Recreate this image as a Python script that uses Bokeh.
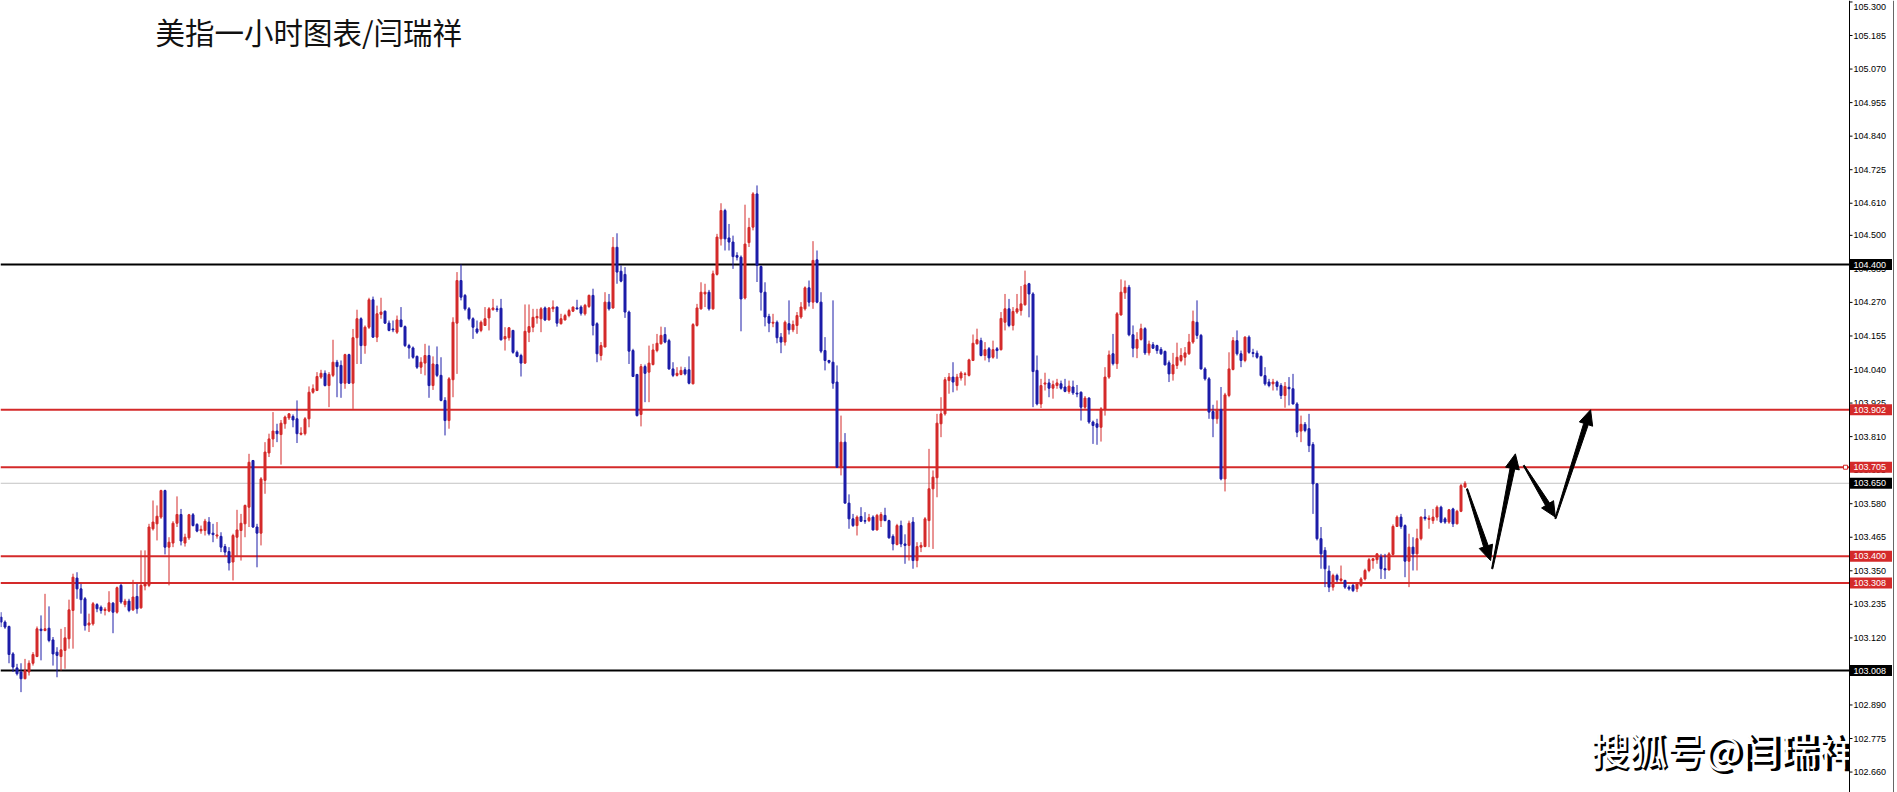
from bokeh.plotting import figure
from bokeh.models import ColumnDataSource, Range1d
from bokeh.core.properties import value
from bokeh.embed import file_html
from bokeh.resources import INLINE

# ---------------- data (USD index, 1h candles) ----------------
opens = [
103.191,103.174,103.159,103.065,103.017,103.003,102.980,103.003,103.033,103.056,
103.150,103.145,103.153,103.113,103.071,103.056,103.077,103.117,103.214,103.325,
103.288,103.254,103.164,103.168,103.234,103.225,103.214,103.212,103.239,103.208,
103.300,103.234,103.246,103.216,103.262,103.223,103.298,103.300,103.494,103.511,
103.534,103.625,103.431,103.445,103.513,103.543,103.445,103.463,103.542,103.509,
103.487,103.488,103.517,103.479,103.469,103.468,103.433,103.416,103.380,103.465,
103.488,103.511,103.568,103.728,103.500,103.479,103.660,103.754,103.802,103.829,
103.817,103.854,103.874,103.879,103.871,103.818,103.820,103.871,103.962,103.968,
104.014,104.027,103.985,104.020,104.065,104.054,103.993,104.091,103.993,104.149,
104.214,104.122,104.185,104.279,104.151,104.229,104.240,104.199,104.179,104.168,
104.210,104.187,104.122,104.114,104.085,104.048,104.062,104.088,103.985,104.057,
104.020,103.934,103.865,104.005,104.199,104.345,104.294,104.248,104.214,104.179,
104.174,104.191,104.217,104.245,104.248,104.250,104.145,104.149,104.174,104.099,
104.088,104.062,104.168,104.185,104.217,104.214,104.251,104.210,104.248,104.254,
104.197,104.210,104.225,104.240,104.251,104.254,104.231,104.256,104.294,104.197,
104.088,104.117,104.271,104.251,104.459,104.377,104.366,104.237,104.105,104.023,
103.886,104.050,104.031,104.057,104.105,104.128,104.160,104.139,104.042,104.020,
104.023,104.039,104.039,103.991,104.191,104.248,104.299,104.305,104.248,104.366,
104.488,104.585,104.491,104.477,104.431,104.425,104.285,104.475,104.528,104.642,
104.393,104.305,104.222,104.199,104.202,104.151,104.134,104.197,104.176,104.191,
104.220,104.248,104.320,104.271,104.416,104.271,104.105,104.071,104.065,103.997,
103.705,103.791,103.582,103.528,103.505,103.536,103.522,103.522,103.534,103.490,
103.522,103.540,103.522,103.468,103.440,103.505,103.442,103.437,103.517,103.385,
103.431,103.433,103.522,103.631,103.669,103.854,103.888,104.002,104.014,103.985,
104.011,104.023,104.020,104.071,104.128,104.139,104.088,104.111,104.082,104.111,
104.108,104.202,104.248,104.191,104.237,104.242,104.262,104.334,104.299,104.037,
103.922,103.990,103.994,103.976,103.985,103.991,103.980,103.965,103.980,103.959,
103.962,103.911,103.942,103.860,103.854,103.842,103.903,104.014,104.094,104.060,
104.227,104.303,104.322,104.159,104.113,104.143,104.180,104.097,104.125,104.122,
104.109,104.102,104.063,104.025,104.054,104.071,104.082,104.094,104.134,104.202,
104.157,104.042,104.008,103.896,103.871,103.903,103.665,103.951,104.040,104.139,
104.094,104.071,104.151,104.098,104.096,104.085,104.019,103.997,103.991,103.997,
103.985,103.951,103.979,103.974,103.922,103.829,103.852,103.837,103.783,103.648,
103.460,103.420,103.349,103.294,103.334,103.317,103.317,103.294,103.300,103.288,
103.300,103.322,103.351,103.385,103.388,103.397,103.357,103.353,103.406,103.502,
103.534,103.505,103.383,103.431,103.408,103.460,103.534,103.526,103.522,103.534,
103.568,103.528,103.517,103.562,103.511,103.554,103.637]

highs = [
103.208,103.180,103.162,103.071,103.031,103.033,103.048,103.043,103.071,103.159,
103.197,103.271,103.228,103.123,103.088,103.151,103.157,103.251,103.340,103.345,
103.305,103.260,103.203,103.243,103.239,103.231,103.225,103.280,103.243,103.296,
103.305,103.254,103.254,103.319,103.305,103.420,103.420,103.511,103.591,103.574,
103.628,103.628,103.465,103.520,103.605,103.562,103.477,103.545,103.548,103.513,
103.505,103.528,103.534,103.511,103.517,103.482,103.442,103.431,103.477,103.559,
103.545,103.577,103.751,103.730,103.511,103.671,103.791,103.820,103.894,103.854,
103.867,103.882,103.890,103.886,103.934,103.842,103.877,103.982,103.989,104.031,
104.039,104.037,104.031,104.142,104.073,104.071,104.094,104.094,104.179,104.245,
104.219,104.191,104.286,104.290,104.259,104.286,104.242,104.208,104.208,104.225,
104.254,104.191,104.128,104.119,104.088,104.082,104.128,104.122,104.085,104.119,
104.082,103.945,104.014,104.219,104.374,104.400,104.299,104.254,104.219,104.208,
104.208,104.254,104.254,104.282,104.259,104.282,104.185,104.185,104.176,104.105,
104.094,104.263,104.263,104.248,104.248,104.254,104.256,104.254,104.277,104.256,
104.231,104.231,104.248,104.256,104.279,104.260,104.265,104.297,104.317,104.202,
104.134,104.305,104.299,104.494,104.507,104.397,104.391,104.242,104.111,104.025,
104.059,104.057,104.122,104.128,104.162,104.187,104.185,104.145,104.065,104.048,
104.050,104.048,104.085,104.199,104.265,104.339,104.334,104.313,104.379,104.505,
104.610,104.591,104.539,104.499,104.442,104.431,104.605,104.560,104.648,104.671,
104.397,104.339,104.231,104.231,104.208,104.165,104.208,104.277,104.208,104.237,
104.271,104.325,104.345,104.480,104.448,104.305,104.151,104.073,104.277,104.054,
103.882,103.822,103.612,103.545,103.540,103.568,103.551,103.545,103.540,103.545,
103.551,103.566,103.525,103.475,103.511,103.522,103.475,103.522,103.534,103.448,
103.448,103.534,103.768,103.694,103.888,103.945,104.014,104.028,104.065,104.025,
104.034,104.031,104.077,104.160,104.180,104.149,104.134,104.117,104.139,104.117,
104.237,104.299,104.282,104.254,104.299,104.326,104.379,104.337,104.305,104.088,
104.008,104.029,104.008,104.002,104.008,104.002,104.008,104.002,104.002,103.987,
103.965,103.949,103.945,103.865,103.871,103.911,104.048,104.105,104.162,104.237,
104.349,104.345,104.330,104.191,104.168,104.197,104.185,104.139,104.134,104.125,
104.117,104.105,104.071,104.097,104.132,104.113,104.117,104.162,104.242,104.277,
104.162,104.048,104.014,103.919,103.934,103.980,103.960,104.099,104.151,104.174,
104.105,104.154,104.157,104.111,104.105,104.088,104.048,104.008,104.008,104.002,
103.993,103.997,104.014,104.025,103.928,103.882,103.860,103.888,103.791,103.650,
103.500,103.431,103.368,103.340,103.340,103.368,103.319,103.300,103.305,103.311,
103.328,103.357,103.394,103.394,103.410,103.408,103.408,103.414,103.509,103.540,
103.545,103.509,103.477,103.465,103.494,103.536,103.562,103.540,103.562,103.574,
103.573,103.534,103.562,103.566,103.559,103.648,103.657]

lows = [
103.157,103.151,103.033,103.003,102.991,102.934,102.978,102.991,103.025,103.054,
103.043,103.143,103.105,103.025,102.985,103.008,103.014,103.083,103.083,103.254,
103.203,103.145,103.140,103.162,103.208,103.203,103.197,103.208,103.136,103.203,
103.237,103.225,103.208,103.212,103.203,103.220,103.283,103.294,103.488,103.454,
103.528,103.406,103.300,103.431,103.500,103.437,103.433,103.456,103.502,103.482,
103.477,103.471,103.471,103.448,103.460,103.414,103.402,103.351,103.317,103.397,
103.385,103.465,103.500,103.497,103.362,103.437,103.614,103.740,103.774,103.791,
103.714,103.837,103.867,103.842,103.788,103.814,103.814,103.842,103.957,103.966,
104.008,103.982,103.911,104.014,103.945,103.943,103.974,103.991,103.905,104.059,
104.059,104.094,104.179,104.149,104.134,104.214,104.197,104.171,104.168,104.162,
104.185,104.117,104.077,104.077,104.042,104.025,104.020,103.943,103.970,104.014,
103.931,103.814,103.837,103.945,104.025,104.277,104.242,104.208,104.145,104.162,
104.168,104.191,104.174,104.242,104.237,104.139,104.105,104.139,104.094,104.082,
104.016,104.059,104.134,104.168,104.197,104.168,104.206,104.208,104.237,104.187,
104.194,104.208,104.219,104.237,104.245,104.225,104.225,104.251,104.157,104.065,
104.071,104.117,104.242,104.248,104.334,104.339,104.217,104.059,104.014,103.879,
103.845,103.928,103.928,104.054,104.099,104.126,104.130,104.039,104.014,104.016,
104.020,104.020,103.989,103.989,104.187,104.245,104.254,104.242,104.245,104.362,
104.465,104.448,104.448,104.385,104.414,104.171,104.280,104.460,104.517,104.340,
104.242,104.188,104.168,104.185,104.130,104.096,104.122,104.160,104.168,104.162,
104.214,104.242,104.256,104.248,104.267,104.096,104.037,104.060,103.974,103.703,
103.677,103.580,103.494,103.500,103.471,103.517,103.511,103.517,103.488,103.488,
103.500,103.520,103.460,103.420,103.437,103.431,103.374,103.385,103.357,103.362,
103.414,103.431,103.431,103.425,103.602,103.808,103.882,103.957,103.962,103.968,
104.002,103.985,104.016,104.069,104.126,104.085,104.071,104.065,104.077,104.077,
104.105,104.174,104.185,104.174,104.231,104.225,104.259,104.219,103.911,103.917,
103.908,103.968,103.945,103.940,103.974,103.971,103.962,103.957,103.953,103.945,
103.865,103.905,103.854,103.785,103.782,103.793,103.882,104.008,104.054,104.042,
104.225,104.282,104.154,104.082,104.079,104.139,104.090,104.088,104.111,104.094,
104.090,104.054,103.997,104.002,104.042,104.065,104.054,104.090,104.128,104.145,
104.040,104.002,103.871,103.808,103.854,103.660,103.622,103.945,104.037,104.088,
104.048,104.065,104.094,104.082,104.077,104.016,103.985,103.979,103.968,103.968,
103.939,103.909,103.917,103.920,103.808,103.791,103.825,103.757,103.545,103.454,
103.357,103.294,103.277,103.282,103.311,103.311,103.288,103.282,103.277,103.277,
103.294,103.317,103.345,103.357,103.374,103.322,103.322,103.351,103.402,103.500,
103.494,103.328,103.294,103.351,103.351,103.454,103.522,103.494,103.511,103.522,
103.513,103.511,103.511,103.500,103.509,103.551,103.634]

closes = [
103.174,103.157,103.063,103.020,102.997,102.980,103.008,103.033,103.063,103.151,
103.145,103.151,103.111,103.065,103.060,103.079,103.120,103.216,103.328,103.288,
103.251,103.162,103.171,103.237,103.220,103.214,103.218,103.240,103.208,103.292,
103.243,103.246,103.214,103.260,103.220,103.300,103.305,103.500,103.517,103.537,
103.625,103.431,103.448,103.513,103.543,103.452,103.465,103.542,103.505,103.486,
103.492,103.520,103.477,103.474,103.473,103.431,103.414,103.377,103.471,103.490,
103.513,103.574,103.722,103.500,103.479,103.665,103.757,103.802,103.829,103.820,
103.856,103.877,103.888,103.867,103.820,103.822,103.871,103.962,103.974,104.016,
104.027,103.985,104.023,104.065,104.050,103.993,104.091,103.993,104.149,104.214,
104.122,104.185,104.279,104.151,104.231,104.237,104.199,104.174,104.176,104.210,
104.187,104.122,104.114,104.082,104.048,104.065,104.088,103.985,104.059,104.020,
103.934,103.865,104.008,104.202,104.345,104.288,104.248,104.214,104.185,104.168,
104.202,104.214,104.248,104.251,104.245,104.142,104.153,104.183,104.099,104.085,
104.062,104.171,104.187,104.219,104.222,104.248,104.210,104.251,104.254,104.199,
104.214,104.225,104.242,104.254,104.248,104.233,104.260,104.294,104.191,104.094,
104.122,104.271,104.248,104.459,104.374,104.343,104.237,104.103,104.016,103.882,
104.050,104.027,104.062,104.107,104.130,104.157,104.134,104.042,104.020,104.027,
104.037,104.025,103.993,104.194,104.251,104.305,104.305,104.248,104.368,104.494,
104.585,104.488,104.477,104.427,104.425,104.282,104.470,104.527,104.642,104.397,
104.305,104.220,104.199,104.202,104.149,104.134,104.202,104.176,104.194,104.225,
104.254,104.320,104.271,104.414,104.271,104.103,104.071,104.065,103.993,103.705,
103.791,103.582,103.528,103.505,103.534,103.520,103.520,103.532,103.490,103.540,
103.543,103.522,103.463,103.442,103.505,103.442,103.437,103.513,103.385,103.433,
103.437,103.528,103.631,103.671,103.856,103.888,104.005,104.014,103.997,104.014,
104.028,104.025,104.073,104.130,104.142,104.088,104.108,104.080,104.108,104.105,
104.215,104.248,104.191,104.239,104.248,104.265,104.330,104.299,104.033,103.922,
103.985,103.994,103.976,103.988,103.994,103.976,103.965,103.983,103.960,103.956,
103.911,103.942,103.860,103.848,103.842,103.905,104.014,104.090,104.060,104.231,
104.305,104.322,104.159,104.113,104.143,104.180,104.097,104.127,104.113,104.105,
104.094,104.056,104.025,104.056,104.082,104.088,104.097,104.134,104.205,104.157,
104.042,104.008,103.894,103.871,103.903,103.665,103.953,104.042,104.139,104.094,
104.071,104.151,104.099,104.095,104.082,104.019,103.991,103.985,103.997,103.982,
103.951,103.982,103.974,103.922,103.825,103.852,103.831,103.779,103.648,103.460,
103.408,103.357,103.294,103.334,103.319,103.322,103.294,103.288,103.282,103.305,
103.322,103.351,103.388,103.391,103.408,103.357,103.353,103.408,103.502,103.534,
103.502,103.383,103.431,103.408,103.460,103.534,103.529,103.530,103.534,103.568,
103.517,103.517,103.559,103.511,103.554,103.642,103.650]

red_levels = [103.902, 103.705, 103.400, 103.308]
black_levels = [104.400, 103.008]
last_price = 103.650
tick_values = [102.660, 102.775, 102.890, 103.005, 103.120, 103.235, 103.350,
               103.465, 103.580, 103.695, 103.810, 103.925, 104.040, 104.155,
               104.270, 104.385, 104.500, 104.610, 104.725, 104.840, 104.955,
               105.070, 105.185, 105.300]

# forecast arrows drawn on the chart (start / tip, in bar index and price)
arrow_x0 = [366.5, 372.8, 380.7, 388.6]
arrow_y0 = [103.631, 103.357, 103.711, 103.529]
arrow_x1 = [372.4, 378.6, 388.6, 397.4]
arrow_y1 = [103.385, 103.751, 103.534, 103.902]

title_text = "美指一小时图表/闫瑞祥"
watermark_text = "搜狐号@闫瑞祥"

# ---------------- layout constants ----------------
W, H = 1897, 792
SX, SY = 4.0, 291.7            # px per bar, px per price unit
X0 = -0.125                    # bar index at the left edge
X1 = X0 + W / SX               # bar index at the right edge
Y1 = 104.4 + 264 / SY          # price at the top edge
Y0 = Y1 - H / SY               # price at the bottom edge
AXIS_X = X0 + 1849 / SX        # price-scale separator
BORDER_X = X0 + 1893 / SX

RED = "#d42a2a"
BULL = "#d42a2a"
BEAR = "#1c1ca8"
FONT_NUM = "Liberation Sans"

n = len(closes)
idx = list(range(n))
colors = [BULL if c >= o else BEAR for o, c in zip(opens, closes)]
tops = [max(o, c) for o, c in zip(opens, closes)]
bots = [min(o, c) for o, c in zip(opens, closes)]
src = ColumnDataSource(dict(i=idx, o=opens, h=highs, l=lows, c=closes,
                            top=tops, bot=bots, color=colors))

p = figure(width=W, height=H, x_range=Range1d(X0, X1), y_range=Range1d(Y0, Y1),
           output_backend="svg", toolbar_location=None,
           x_axis_location=None, y_axis_location=None,
           min_border_left=0, min_border_right=0, min_border_top=0, min_border_bottom=0)
p.outline_line_color = None
p.xgrid.visible = False
p.ygrid.visible = False
p.background_fill_color = "white"
p.border_fill_color = "white"

# level lines
p.segment(x0=[X0], y0=[last_price], x1=[AXIS_X], y1=[last_price], line_color="#c4c4c4", line_width=1)
p.segment(x0=[X0] * len(red_levels), y0=red_levels, x1=[AXIS_X] * len(red_levels),
          y1=red_levels, line_color=RED, line_width=2)
p.segment(x0=[X0] * len(black_levels), y0=black_levels, x1=[AXIS_X] * len(black_levels),
          y1=black_levels, line_color="black", line_width=2)
p.scatter(x=[AXIS_X - 1.0], y=[red_levels[1]], marker="square", size=4,
          fill_color="white", line_color=RED, line_width=1)

# candles
p.segment(x0="i", y0="l", x1="i", y1="h", line_color="color", line_width=1, source=src)
p.vbar(x="i", width=0.5, top="top", bottom="bot", fill_color="color",
       line_color="color", line_width=1, source=src)

# tapered hand-drawn style arrows
xs_list, ys_list = [], []
for ax_, ay_, bx_, by_ in zip(arrow_x0, arrow_y0, arrow_x1, arrow_y1):
    ax0, ay0, ax1, ay1 = ax_ * SX, ay_ * SY, bx_ * SX, by_ * SY
    dx, dy = ax1 - ax0, ay1 - ay0
    ln = (dx * dx + dy * dy) ** 0.5
    ux, uy = dx / ln, dy / ln
    nx, ny = -uy, ux
    hl, hw, sw0, sw1 = 15.0, 7.0, 0.6, 2.4
    bx, by = ax1 - ux * hl, ay1 - uy * hl
    pts = [(ax0 + nx * sw0, ay0 + ny * sw0), (bx + nx * sw1, by + ny * sw1),
           (bx + nx * hw, by + ny * hw), (ax1, ay1),
           (bx - nx * hw, by - ny * hw), (bx - nx * sw1, by - ny * sw1),
           (ax0 - nx * sw0, ay0 - ny * sw0)]
    xs_list.append([q[0] / SX for q in pts])
    ys_list.append([q[1] / SY for q in pts])
p.patches(xs=xs_list, ys=ys_list, fill_color="black", line_color="black", line_width=1)

# title and watermark
p.text(x=[38.6], y=[105.199], text=[title_text], text_font=value("Noto Sans CJK SC"),
       text_font_size=value("29.5px"), text_color="#111111", text_baseline="middle",
       text_align="left")
p.text(x=[398.0], y=[102.735], text=[watermark_text], text_font=value("Noto Sans CJK SC"),
       text_font_size=value("38px"), text_font_style="bold", text_color="black",
       text_baseline="middle", text_align="left")
p.text(x=[398.0 - 1.5 / SX], y=[102.735 + 1.5 / SY], text=[watermark_text],
       text_font=value("Noto Sans CJK SC"), text_font_size=value("38px"),
       text_color="white", text_baseline="middle", text_align="left")

# price scale panel
p.quad(left=[AXIS_X], right=[X1], bottom=[Y0], top=[Y1], fill_color="white", line_color=None)
p.segment(x0=[AXIS_X], y0=[Y0], x1=[AXIS_X], y1=[Y1], line_color="black", line_width=1)
p.segment(x0=[BORDER_X], y0=[Y0], x1=[BORDER_X], y1=[Y1], line_color="#666666", line_width=1)
p.segment(x0=[AXIS_X] * len(tick_values), y0=tick_values,
          x1=[AXIS_X + 3 / SX] * len(tick_values), y1=tick_values,
          line_color="black", line_width=1)
# keep every tick label fully inside the picture (the topmost one sits at the edge)
label_y = [min(t, Y1 - 6 / SY) for t in tick_values]
p.text(x=[AXIS_X + 4 / SX] * len(tick_values), y=label_y,
       text=[f"{t:.3f}" for t in tick_values], text_font=value(FONT_NUM),
       text_font_size=value("9px"), text_color="black", text_baseline="middle",
       text_align="left")

# price tags
tag_levels = red_levels + black_levels + [last_price]
tag_colors = [RED] * len(red_levels) + ["black"] * (len(black_levels) + 1)
p.rect(x=[AXIS_X + 21.5 / SX] * len(tag_levels), y=tag_levels, width=42, height=11,
       width_units="screen", height_units="screen", fill_color=tag_colors, line_color=None)
p.text(x=[AXIS_X + 4 / SX] * len(tag_levels), y=tag_levels,
       text=[f"{t:.3f}" for t in tag_levels], text_font=value(FONT_NUM),
       text_font_size=value("9px"), text_color="white", text_baseline="middle",
       text_align="left")

open("out.html", "w").write(file_html(p, INLINE))
